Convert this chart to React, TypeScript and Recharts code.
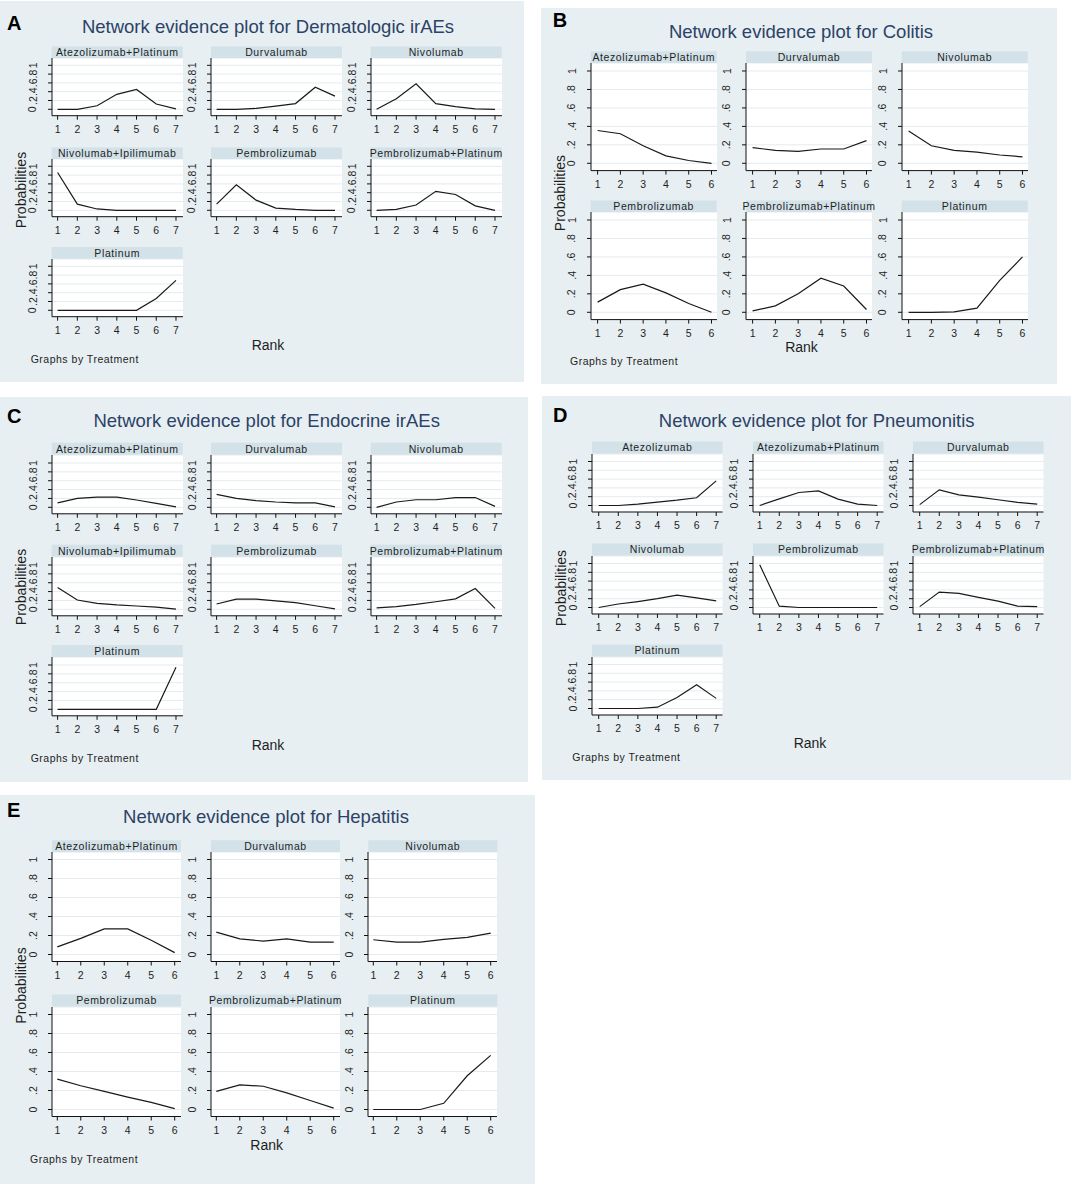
import React from 'react';
import { LineChart, Line, XAxis, YAxis, CartesianGrid } from 'recharts';

const FONT = '"Liberation Sans", Arial, Helvetica, sans-serif';
const PANEL_BG = '#e7eff2';
const STRIP_BG = '#d3e2e8';
const GRID = '#e3ebee';
const TITLE_COLOR = '#2c4266';
const TEXT = '#1e1e1e';

const RANKS7 = [1, 2, 3, 4, 5, 6, 7];
const RANKS6 = [1, 2, 3, 4, 5, 6];
const Y_TICKS = [0, 0.2, 0.4, 0.6, 0.8, 1];
const Y_TICK_LABELS = ['0', '.2', '.4', '.6', '.8', '1'];

// A: Dermatologic irAEs
const DERM_TREATMENTS = ['Atezolizumab+Platinum', 'Durvalumab', 'Nivolumab', 'Nivolumab+Ipilimumab', 'Pembrolizumab', 'Pembrolizumab+Platinum', 'Platinum'];
const DERM_ATEZO_PLAT = [0, 0, 0.08, 0.34, 0.45, 0.12, 0.01];
const DERM_DURVA = [0, 0, 0.02, 0.07, 0.13, 0.5, 0.3];
const DERM_NIVO = [0, 0.24, 0.58, 0.13, 0.06, 0.01, 0];
const DERM_NIVO_IPI = [0.86, 0.14, 0.03, 0, 0, 0, 0];
const DERM_PEMBRO = [0.14, 0.58, 0.23, 0.05, 0.02, 0, 0];
const DERM_PEMBRO_PLAT = [0, 0.02, 0.12, 0.43, 0.36, 0.1, 0];
const DERM_PLAT = [0, 0, 0, 0, 0, 0.27, 0.68];

// B: Colitis
const COL_TREATMENTS = ['Atezolizumab+Platinum', 'Durvalumab', 'Nivolumab', 'Pembrolizumab', 'Pembrolizumab+Platinum', 'Platinum'];
const COL_ATEZO_PLAT = [0.355, 0.32, 0.19, 0.08, 0.03, 0];
const COL_DURVA = [0.17, 0.14, 0.13, 0.155, 0.155, 0.245];
const COL_NIVO = [0.35, 0.19, 0.14, 0.12, 0.09, 0.07];
const COL_PEMBRO = [0.11, 0.245, 0.305, 0.21, 0.095, 0];
const COL_PEMBRO_PLAT = [0.015, 0.07, 0.2, 0.37, 0.285, 0.03];
const COL_PLAT = [0, 0, 0.005, 0.045, 0.345, 0.6];

// C: Endocrine irAEs
const ENDO_TREATMENTS = DERM_TREATMENTS;
const ENDO_ATEZO_PLAT = [0.1, 0.2, 0.23, 0.23, 0.165, 0.09, 0.01];
const ENDO_DURVA = [0.29, 0.2, 0.15, 0.12, 0.1, 0.1, 0.01];
const ENDO_NIVO = [0, 0.12, 0.17, 0.17, 0.22, 0.22, 0.02];
const ENDO_NIVO_IPI = [0.49, 0.21, 0.135, 0.1, 0.075, 0.05, 0.005];
const ENDO_PEMBRO = [0.12, 0.23, 0.23, 0.19, 0.15, 0.08, 0.01];
const ENDO_PEMBRO_PLAT = [0.03, 0.06, 0.11, 0.17, 0.235, 0.47, 0.02];
const ENDO_PLAT = [0, 0, 0, 0, 0, 0, 0.95];

// D: Pneumonitis
const PNEU_TREATMENTS = ['Atezolizumab', 'Atezolizumab+Platinum', 'Durvalumab', 'Nivolumab', 'Pembrolizumab', 'Pembrolizumab+Platinum', 'Platinum'];
const PNEU_ATEZO = [0, 0, 0.03, 0.075, 0.12, 0.175, 0.56];
const PNEU_ATEZO_PLAT = [0, 0.15, 0.295, 0.33, 0.145, 0.03, 0];
const PNEU_DURVA = [0.02, 0.355, 0.24, 0.19, 0.13, 0.07, 0.03];
const PNEU_NIVO = [0, 0.08, 0.135, 0.2, 0.28, 0.22, 0.15];
const PNEU_PEMBRO = [0.97, 0.03, 0, 0, 0, 0, 0];
const PNEU_PEMBRO_PLAT = [0.02, 0.35, 0.32, 0.23, 0.145, 0.03, 0.02];
const PNEU_PLAT = [0, 0, 0, 0.03, 0.25, 0.54, 0.23];

// E: Hepatitis
const HEP_TREATMENTS = COL_TREATMENTS;
const HEP_ATEZO_PLAT = [0.08, 0.17, 0.27, 0.27, 0.15, 0.02];
const HEP_DURVA = [0.235, 0.165, 0.14, 0.165, 0.13, 0.13];
const HEP_NIVO = [0.155, 0.13, 0.13, 0.16, 0.18, 0.225];
const HEP_PEMBRO = [0.32, 0.25, 0.19, 0.13, 0.075, 0.01];
const HEP_PEMBRO_PLAT = [0.19, 0.26, 0.245, 0.175, 0.095, 0.015];
const HEP_PLAT = [0, 0, 0, 0.065, 0.355, 0.57];

type Panel = {
  letterText: string;
  titleText: string;
  box: number[];
  letter: number[];
  title: number[];
  prob: number[];
  rank: number[];
  gbt: number[];
  cols: number[];
  plotW: number;
  padL: number;
  padR: number;
  y0s: number[];
  ppu: number;
  gapTop: number;
  hh: number;
  bottomPad: number;
  treatments: string[];
  probs: number[][];
  ranks: number[];
};

const PANELS: Panel[] = [
  {
    letterText: 'A', titleText: 'Network evidence plot for Dermatologic irAEs',
    box: [0, 1, 524, 381], letter: [7, 29.5], title: [268, 33], prob: [26, 190], rank: [268, 350], gbt: [30.7, 363],
    cols: [51.7, 211, 370.7], plotW: 131, padL: 5.6, padR: 7,
    y0s: [109.3, 210.3, 310], ppu: 44, gapTop: 7.3, hh: 11.6, bottomPad: 6.4,
    treatments: DERM_TREATMENTS,
    probs: [DERM_ATEZO_PLAT, DERM_DURVA, DERM_NIVO, DERM_NIVO_IPI, DERM_PEMBRO, DERM_PEMBRO_PLAT, DERM_PLAT],
    ranks: RANKS7,
  },
  {
    letterText: 'B', titleText: 'Network evidence plot for Colitis',
    box: [541, 8, 516, 376], letter: [552.7, 27], title: [801, 38.3], prob: [565, 193], rank: [801.5, 352], gbt: [570, 364.5],
    cols: [590.7, 746, 901.7], plotW: 126, padL: 6.6, padR: 5.5,
    y0s: [163.3, 312.5], ppu: 92.3, gapTop: 8, hh: 11.7, bottomPad: 7.3,
    treatments: COL_TREATMENTS,
    probs: [COL_ATEZO_PLAT, COL_DURVA, COL_NIVO, COL_PEMBRO, COL_PEMBRO_PLAT, COL_PLAT],
    ranks: RANKS6,
  },
  {
    letterText: 'C', titleText: 'Network evidence plot for Endocrine irAEs',
    box: [0, 397, 528, 385], letter: [7, 423.3], title: [266.7, 426.7], prob: [26, 587], rank: [268, 750], gbt: [30.7, 762],
    cols: [51.7, 211, 370.7], plotW: 131, padL: 5.6, padR: 7,
    y0s: [507, 609, 709.3], ppu: 44.3, gapTop: 8, hh: 12, bottomPad: 6.5,
    treatments: ENDO_TREATMENTS,
    probs: [ENDO_ATEZO_PLAT, ENDO_DURVA, ENDO_NIVO, ENDO_NIVO_IPI, ENDO_PEMBRO, ENDO_PEMBRO_PLAT, ENDO_PLAT],
    ranks: RANKS7,
  },
  {
    letterText: 'D', titleText: 'Network evidence plot for Pneumonitis',
    box: [542, 396, 529, 384], letter: [553, 421.7], title: [816.7, 426.7], prob: [566, 588], rank: [810, 748.3], gbt: [572.3, 760.5],
    cols: [592, 753, 913], plotW: 130.5, padL: 6.7, padR: 6.3,
    y0s: [505, 607, 708], ppu: 44, gapTop: 7.5, hh: 12, bottomPad: 6.5,
    treatments: PNEU_TREATMENTS,
    probs: [PNEU_ATEZO, PNEU_ATEZO_PLAT, PNEU_DURVA, PNEU_NIVO, PNEU_PEMBRO, PNEU_PEMBRO_PLAT, PNEU_PLAT],
    ranks: RANKS7,
  },
  {
    letterText: 'E', titleText: 'Network evidence plot for Hepatitis',
    box: [0, 795, 535, 389], letter: [7, 816.7], title: [266, 823.3], prob: [26, 985.5], rank: [266.7, 1150], gbt: [30, 1163],
    cols: [52, 211, 368.3], plotW: 129, padL: 5.3, padR: 6.3,
    y0s: [954.7, 1109], ppu: 95, gapTop: 7.5, hh: 12, bottomPad: 7,
    treatments: HEP_TREATMENTS,
    probs: [HEP_ATEZO_PLAT, HEP_DURVA, HEP_NIVO, HEP_PEMBRO, HEP_PEMBRO_PLAT, HEP_PLAT],
    ranks: RANKS6,
  },
];

const YW = 30;
const XH = 26;

function geom(p: Panel, i: number) {
  const row = Math.floor(i / 3);
  const col = i % 3;
  const plotLeft = p.cols[col];
  const y0 = p.y0s[row];
  const plotTop = y0 - p.ppu - p.gapTop;
  const headerTop = plotTop - p.hh;
  const plotH = p.gapTop + p.ppu + p.bottomPad;
  const n = p.ranks.length;
  const xppu = (p.plotW - p.padL - p.padR) / (n - 1);
  const xDomain = [1 - p.padL / xppu, n + p.padR / xppu];
  const yDomain = [-p.bottomPad / p.ppu, 1 + p.gapTop / p.ppu];
  return { plotLeft, plotTop, headerTop, plotH, xDomain, yDomain };
}

function SubPlot({ p, i }: { p: Panel; i: number }) {
  const g = geom(p, i);
  const data = p.ranks.map((r, k) => ({ rank: r, p: p.probs[i][k] }));
  const xTick = (props: any) => (
    <text x={props.x} y={g.plotH + 17} textAnchor="middle" fontSize={10.5} fontFamily={FONT} fill={TEXT}>
      {props.payload.value}
    </text>
  );
  const yTick = (props: any) => {
    const idx = Y_TICKS.findIndex((t) => Math.abs(t - props.payload.value) < 1e-6);
    const cx = YW - 15.5;
    return (
      <text x={cx} y={props.y} transform={`rotate(-90 ${cx} ${props.y})`} textAnchor="middle" fontSize={10.5} fontFamily={FONT} fill={TEXT}>
        {Y_TICK_LABELS[idx]}
      </text>
    );
  };
  return (
    <div style={{ position: 'absolute', left: g.plotLeft - YW, top: g.plotTop }}>
      <LineChart width={YW + p.plotW} height={g.plotH + XH} data={data} margin={{ top: 0, right: 0, bottom: 0, left: 0 }}>
        <CartesianGrid vertical={false} fill="#ffffff" stroke={GRID} strokeWidth={1} />
        <XAxis
          type="number"
          dataKey="rank"
          domain={g.xDomain}
          ticks={p.ranks}
          interval={0}
          allowDataOverflow
          height={XH}
          tickSize={4}
          tick={xTick}
          axisLine={{ stroke: '#111', strokeWidth: 1 }}
          tickLine={{ stroke: '#111', strokeWidth: 1 }}
        />
        <YAxis
          type="number"
          domain={g.yDomain}
          ticks={Y_TICKS}
          interval={0}
          allowDataOverflow
          width={YW}
          tickSize={4}
          tick={yTick}
          axisLine={{ stroke: '#111', strokeWidth: 1 }}
          tickLine={{ stroke: '#111', strokeWidth: 1 }}
        />
        <Line type="linear" dataKey="p" stroke="#1a1a1a" strokeWidth={1.2} dot={false} isAnimationActive={false} />
      </LineChart>
    </div>
  );
}

export default function App() {
  return (
    <div style={{ position: 'absolute', left: 0, top: 0, width: 1072, height: 1184, background: '#fff', overflow: 'hidden' }}>
      <svg width={1072} height={1184} style={{ position: 'absolute', left: 0, top: 0 }}>
        {PANELS.map((p) => (
          <g key={p.letterText}>
            <rect x={p.box[0]} y={p.box[1]} width={p.box[2]} height={p.box[3]} fill={PANEL_BG} />
            {p.treatments.map((t, i) => {
              const g = geom(p, i);
              return <rect key={t} x={g.plotLeft} y={g.headerTop} width={p.plotW} height={p.hh} fill={STRIP_BG} />;
            })}
          </g>
        ))}
      </svg>
      {PANELS.map((p) => p.treatments.map((t, i) => <SubPlot key={p.letterText + t} p={p} i={i} />))}
      <svg width={1072} height={1184} style={{ position: 'absolute', left: 0, top: 0, pointerEvents: 'none' }}>
        {PANELS.map((p) => (
          <g key={p.letterText} fontFamily={FONT}>
            <text x={p.letter[0]} y={p.letter[1]} fontSize={20} fontWeight="bold" fill="#000">{p.letterText}</text>
            <text x={p.title[0]} y={p.title[1]} fontSize={18.5} textAnchor="middle" fill={TITLE_COLOR}>{p.titleText}</text>
            {p.treatments.map((t, i) => {
              const g = geom(p, i);
              return (
                <text key={t} x={g.plotLeft + p.plotW / 2} y={g.headerTop + p.hh / 2 + 3.8} fontSize={10.5} letterSpacing={0.6} textAnchor="middle" fill={TEXT}>
                  {t}
                </text>
              );
            })}
            <text x={p.prob[0]} y={p.prob[1]} transform={`rotate(-90 ${p.prob[0]} ${p.prob[1]})`} fontSize={14} textAnchor="middle" fill={TEXT}>Probabilities</text>
            <text x={p.rank[0]} y={p.rank[1]} fontSize={14} textAnchor="middle" fill={TEXT}>Rank</text>
            <text x={p.gbt[0]} y={p.gbt[1]} fontSize={10.5} letterSpacing={0.5} fill={TEXT}>Graphs by Treatment</text>
          </g>
        ))}
      </svg>
    </div>
  );
}
